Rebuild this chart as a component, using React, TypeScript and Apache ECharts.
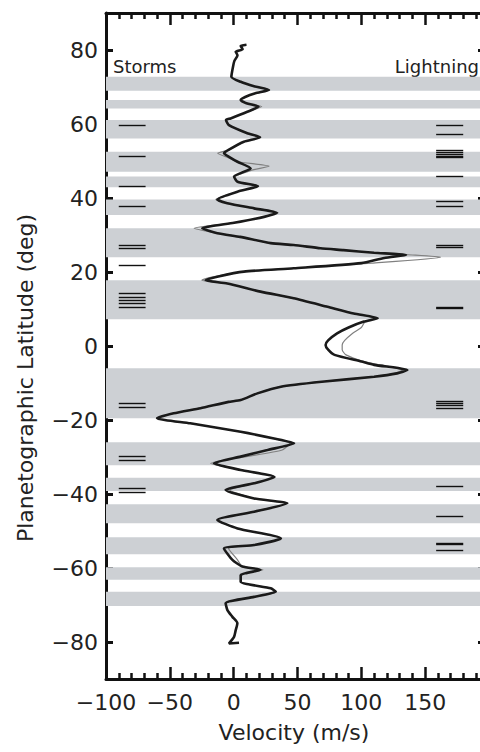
import React, { useEffect, useRef } from "react";
import * as echarts from "echarts";

// Zonal wind profile (black: thick curve)
const blackLat = [81.4,81.1,80.2,79.5,78.6,77,75.5,72.8,71.4,70.2,
  69.2,68.3,67.3,66.5,65.6,64.7,63.3,61.5,61.1,59.7,
  57.5,56.4,55.2,53,52.1,51,49.8,48,46.8,45.8,
  44.4,43.2,41.7,39.6,38.6,37.2,36,34.9,33.3,31.8,
  30.5,29.5,27.8,27.3,26.4,25.9,25.2,24.6,23.8,22.4,
  21,20.1,18.8,17.8,16.9,14.7,12.9,10.6,8.8,7.5,
  6.6,5,3.4,1.5,0.3,-1,-2.4,-4.2,-5.1,-6.5,
  -7.4,-8.3,-9.6,-11,-12.8,-14.6,-15.1,-16.8,-18.2,-19.5,
  -20.9,-23.2,-25,-26.3,-28.1,-29.9,-31.7,-33.5,-35.4,-37.1,
  -38.9,-41.2,-42.5,-44.8,-47,-49.3,-52,-53.8,-54.7,-57.8,
  -59.6,-60.5,-61.9,-63.7,-65.5,-66.4,-67.8,-69.5,-71.4,-73.2,
  -74.9,-76.8,-78.6,-80.4,-80.2];
const blackVel = [10,5.5,7,1.6,3,0.5,-0.5,-1.8,5.5,16,
  27.7,17,9,5.5,10,19.5,10.7,-2.4,-6,-3.7,
  10.7,20.7,8,-4,-7.6,-3,3,13.3,6,0.3,
  3,19,3,-12.8,-5,16,33.8,23.8,0.3,-24.6,
  -12.8,5,29,47,68,86,110,135,118,100,
  47,8,-12,-22,-5,21,47,73.5,94,112.8,
  102,90,81,74,72,74,79,100,110,136,
  128,110,71,37,18.6,5.5,-4,-26,-47,-60,
  -34,5.5,31.6,47.3,26.5,5.5,-15.5,5.5,32,16,
  -6.3,16,42,16,-12.8,3,37,16,-7.6,-1,
  6.8,21,5.5,5.5,29,33,16,-6.3,-4.9,-1,
  2.9,1.6,0.3,-3.7,4.2];

// Second profile (gray: thin curve)
const grayLat = [81.4,81.1,80.2,79.5,78.6,77,75.5,72.8,71.4,70.2,
  69.2,68.3,67.3,66.5,65.6,64.7,63.3,61.5,61.1,59.7,
  57.5,56.4,55.2,53,52.1,51,49.8,48.6,47.6,46.3,45.8,
  44.4,43.2,41.7,39.6,38.6,37.2,36,34.9,33.3,31.8,
  30.5,29.5,27.8,27.3,26.4,25.9,25.2,24.6,24.0,22.4,
  21,20.1,18.8,17.8,16.9,14.7,12.9,10.6,8.8,7.5,
  6.6,5,3.4,1.5,0.3,-1,-2.4,-4.2,-5.1,-6.5,
  -7.4,-8.3,-9.6,-11,-12.8,-14.6,-15.1,-16.8,-18.2,-19.5,
  -20.9,-23.2,-25,-26.3,-28.1,-29.9,-31.7,-33.5,-35.4,-37.1,
  -38.9,-41.2,-42.5,-44.8,-47,-49.3,-52,-53.8,-54.7,-57.8,
  -59.6,-60.5,-61.9,-63.7,-65.5,-66.4,-67.8,-69.5,-71.4,-73.2,
  -74.9,-76.8,-78.6,-80.4,-80.2];
const grayVel = [10,5.5,7,1.6,3,0.5,-0.5,-1.8,5.5,16,
  27.7,17,9,5.5,10,22,10.7,-2.4,-6,-3.7,
  10.7,20.7,8,-4,-12.5,-5,3,27.7,15,4,0.3,
  3,19,3,-14,-5,16,35,23.8,0.3,-31,
  -12.8,5,29,47,68,86,110,140,162,108,
  47,8,-14,-25,-5,21,47,73.5,94,110,
  103,100,93,87,85,85,88,102,115,132,
  126,110,71,37,18.6,5.5,-4,-26,-47,-60,
  -34,5.5,31.6,44,38,10,-18,5.5,32,16,
  -3,16,42,16,-12.8,3,37,16,-4,3,
  6.8,23,5.5,5.5,29,33,16,-6.3,-4.9,-1,
  2.9,1.6,0.3,-3.7,4.2];

// Gray latitude bands [north, south]
const bandNorth = [72.8, 66.5, 61.1, 52.5, 45.8, 39.6, 31.8, 17.8, -6.0, -26.0, -35.6, -42.8, -51.7, -59.8, -66.4];
const bandSouth = [69.0, 64.2, 56.1, 47.1, 42.9, 35.4, 24.0, 7.2, -19.5, -32.2, -39.2, -47.9, -56.3, -63.2, -70.3];

// Storm and lightning latitudes
const stormLat = [59.7, 51.4, 43.1, 37.9, 27.3, 26.4, 21.9, 14.2, 13.3, 12.4, 11.5, 10.6, -15.5, -16.6, -29.7, -30.8, -38.4, -39.5];
const lightningLat = [59.7, 57.3, 52.8, 52.4, 51.9, 51.4, 50.9, 45.9, 39.2, 37.9, 27.2, 26.8, 10.6, 10.3, -14.9, -15.5, -16.1, -16.7, -38.0, -45.9, -53.2, -53.5, -55.1];
const stormRange = [-90, -69];
const lightningRange = [158.6, 179.8];

// Latitude ticks / labels
const yTicks = [-80, -60, -40, -20, 0, 20, 40, 60, 80];

const FONT = "DejaVu Sans";
const fmt = (v: number) => String(v).replace("-", "\u2212");

export default function App() {
  const ref = useRef<HTMLDivElement>(null);
  useEffect(() => {
    if (!ref.current) return;
    const chart = echarts.init(ref.current, undefined, { renderer: "svg" });
    const mkAxisLine = () => ({ show: true, onZero: false, lineStyle: { color: "#111", width: 3 } });
    const mkX = (pos: string, showLabel: boolean) => ({
      type: "value",
      position: pos,
      min: -100,
      max: 200,
      interval: 50,
      axisLine: mkAxisLine(),
      axisTick: { show: true, inside: true, length: 12, lineStyle: { color: "#111", width: 2.5 } },
      minorTick: { show: true, splitNumber: 5, length: 6, lineStyle: { color: "#111", width: 2.5 } },
      splitLine: { show: false },
      minorSplitLine: { show: false },
      axisLabel: {
        show: showLabel,
        margin: 12,
        fontSize: 22,
        fontFamily: FONT,
        color: "#222",
        formatter: (v: number) => (v >= 200 ? "" : fmt(v)),
      },
    });
    const mkY = (pos: string, showLabel: boolean, tickLen: number) => ({
      type: "value",
      position: pos,
      min: -90,
      max: 90,
      interval: 10,
      axisLine: mkAxisLine(),
      axisTick: { show: true, inside: true, length: tickLen, customValues: yTicks, lineStyle: { color: "#111", width: 3 } },
      splitLine: { show: false },
      axisLabel: {
        show: showLabel,
        margin: 8,
        fontSize: 22,
        fontFamily: FONT,
        color: "#222",
        formatter: (v: number) => (yTicks.indexOf(v) >= 0 ? fmt(v) : ""),
      },
    });
    const markLineData = (lats: number[], range: number[]) =>
      lats.map((lat) => [{ coord: [range[0], lat] }, { coord: [range[1], lat] }]);
    chart.setOption({
      animation: false,
      backgroundColor: "#fff",
      grid: { left: 106, top: 13, width: 383, height: 666, containLabel: false, outerBoundsMode: "none" },
      xAxis: [mkX("bottom", true), mkX("top", false)],
      yAxis: [mkY("left", true, 7), mkY("right", false, 11)],
      series: [
        {
          type: "line",
          data: [],
          z: 1,
          silent: true,
          markArea: {
            silent: true,
            itemStyle: { color: "#cdd0d4" },
            data: bandNorth.map((n, i) => [{ yAxis: n }, { yAxis: bandSouth[i] }]),
          },
        },
        {
          type: "line",
          data: [],
          z: 2,
          silent: true,
          markLine: {
            silent: true,
            symbol: ["none", "none"],
            label: { show: false },
            lineStyle: { color: "#111", width: 1.4, type: "solid" },
            data: [...markLineData(stormLat, stormRange), ...markLineData(lightningLat, lightningRange)],
          },
        },
        {
          type: "line",
          z: 3,
          showSymbol: false,
          silent: true,
          smooth: 0.2,
          lineStyle: { color: "#808080", width: 1.2 },
          data: grayLat.map((lat, i) => [grayVel[i], lat]),
        },
        {
          type: "line",
          z: 4,
          showSymbol: false,
          silent: true,
          smooth: 0.2,
          lineStyle: { color: "#1a1a1a", width: 2.6 },
          data: blackLat.map((lat, i) => [blackVel[i], lat]),
        },
      ],
      graphic: [
        { type: "text", x: 113, y: 66, style: { text: "Storms", fontSize: 18, fontFamily: FONT, fill: "#222", verticalAlign: "middle", align: "left" } },
        { type: "text", x: 479, y: 66, style: { text: "Lightning", fontSize: 18, fontFamily: FONT, fill: "#222", verticalAlign: "middle", align: "right" } },
        { type: "text", x: 25, y: 378, rotation: Math.PI / 2, style: { text: "Planetographic Latitude (deg)", fontSize: 22, fontFamily: FONT, fill: "#222", align: "center", verticalAlign: "middle" } },
        { type: "text", x: 294, y: 732, style: { text: "Velocity (m/s)", fontSize: 22, fontFamily: FONT, fill: "#222", align: "center", verticalAlign: "middle" } },
      ],
    });
    return () => chart.dispose();
  }, []);
  return <div ref={ref} style={{ position: "fixed", left: 0, top: 0, width: 480, height: 752 }} />;
}
